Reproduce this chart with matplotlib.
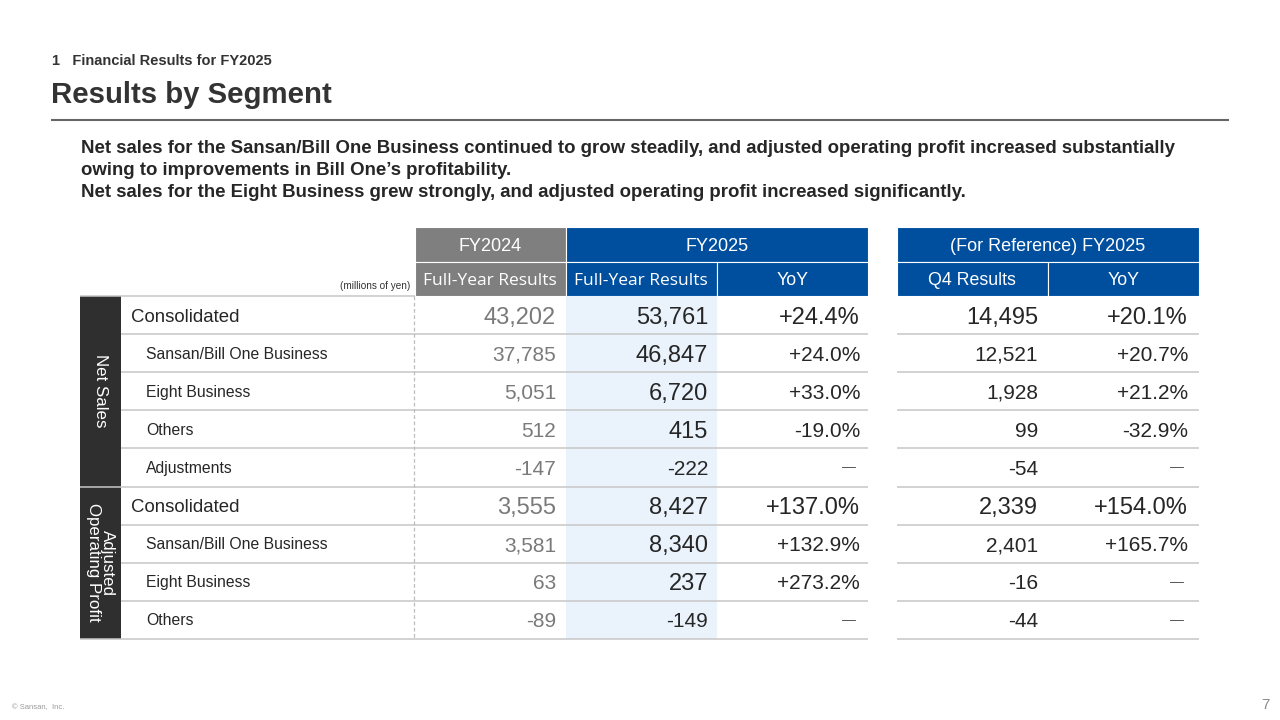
import matplotlib
matplotlib.use("Agg")
import matplotlib.pyplot as plt
from matplotlib.patches import Rectangle

# ---------------- data ----------------
subtitle = "1   Financial Results for FY2025"
title = "Results by Segment"
body_lines = [
    "Net sales for the Sansan/Bill One Business continued to grow steadily, and adjusted operating profit increased substantially",
    "owing to improvements in Bill One\u2019s profitability.",
    "Net sales for the Eight Business grew strongly, and adjusted operating profit increased significantly.",
]
sections = ["Net Sales", "Adjusted\nOperating Profit"]
section_counts = [5, 4]
row_labels = ["Consolidated", "Sansan/Bill One Business", "Eight Business", "Others", "Adjustments",
              "Consolidated", "Sansan/Bill One Business", "Eight Business", "Others"]
row_is_total = [True, False, False, False, False, True, False, False, False]
fy2024 = [43202, 37785, 5051, 512, -147, 3555, 3581, 63, -89]
fy2025 = [53761, 46847, 6720, 415, -222, 8427, 8340, 237, -149]
fy2025_yoy = [24.4, 24.0, 33.0, -19.0, None, 137.0, 132.9, 273.2, None]
q4 = [14495, 12521, 1928, 99, -54, 2339, 2401, -16, -44]
q4_yoy = [20.1, 20.7, 21.2, -32.9, None, 154.0, 165.7, None, None]
fy2025_large = [True, True, True, True, False, True, True, True, False]
header_top = ["FY2024", "FY2025", "(For Reference) FY2025"]
header_sub = ["Full-Year Results", "Full-Year Results", "YoY", "Q4 Results", "YoY"]
unit_note = "(millions of yen)"
footer_left = "\u00a9 Sansan,  Inc."
page_no = "7"

# ---------------- style ----------------
FONT = "Liberation Sans"
TXT = "#262626"
GREY_HDR = "#7f7f7f"
BLUE_HDR = "#004f9f"
LIGHT_BLUE = "#eaf3fc"
DARK = "#2f2f2f"
LINE = "#c6c6c6"

fig = plt.figure(figsize=(12.8, 7.2), dpi=100)
ax = fig.add_axes([0, 0, 1, 1])
ax.set_xlim(0, 1280)
ax.set_ylim(720, 0)
ax.axis("off")
renderer = fig.canvas.get_renderer()


def put(x, yc, s, size, ha="left", color=TXT, weight="normal", family=FONT, cap=0.716):
    px = size * 100 / 72
    return ax.text(x, yc + cap * px / 2, s, fontsize=size, ha=ha, va="baseline",
                   color=color, fontweight=weight, family=family)


def fit_size(s, target_w, weight="normal", family=FONT, base=12):
    t = ax.text(0, 0, s, fontsize=base, fontweight=weight, family=family)
    w = t.get_window_extent(renderer).width
    t.remove()
    return base * target_w / w


def hline(x0, x1, y, color=LINE, lw=1.1, **kw):
    ax.plot([x0, x1], [y, y], color=color, lw=lw, solid_capstyle="butt", **kw)


# ---------------- heading ----------------
ax.text(52, 65, subtitle, fontsize=fit_size(subtitle, 218, "bold"), fontweight="bold", family=FONT,
        color="#333333", va="baseline")
ax.text(51, 103, title, fontsize=fit_size(title, 280, "bold"), fontweight="bold", family=FONT,
        color="#333333", va="baseline")
hline(51, 1229, 119.5, color="#666666", lw=1.5)

body_size = fit_size(body_lines[0], 1097, "bold")
for i, line in enumerate(body_lines):
    ax.text(81, 153 + 22 * i, line, fontsize=body_size, fontweight="bold", family=FONT, color=TXT, va="baseline")

# ---------------- table geometry ----------------
h1_top, h1_bot = 227, 261.5
h2_top, h2_bot = 261.5, 296
top = 296
row_h = 38.1
n_rows = len(row_labels)
bounds = [top + i * row_h for i in range(n_rows + 1)]
centers = [(bounds[i] + bounds[i + 1]) / 2 for i in range(n_rows)]

c24 = (415, 565.5)
c25 = (565.5, 716.5)
cyoy = (716.5, 868)
cq4 = (897, 1047.5)
cq4y = (1047.5, 1199)


def box(x0, x1, y0, y1, color):
    ax.add_patch(Rectangle((x0, y0), x1 - x0, y1 - y0, facecolor=color, edgecolor="white", lw=0.8))


box(c24[0], c24[1], h1_top, h1_bot, GREY_HDR)
box(c25[0], cyoy[1], h1_top, h1_bot, BLUE_HDR)
box(cq4[0], cq4y[1], h1_top, h1_bot, BLUE_HDR)
sub_cols = [c24, c25, cyoy, cq4, cq4y]
sub_colors = [GREY_HDR, BLUE_HDR, BLUE_HDR, BLUE_HDR, BLUE_HDR]
for (x0, x1), col in zip(sub_cols, sub_colors):
    box(x0, x1, h2_top, h2_bot, col)

hc1 = (h1_top + h1_bot) / 2
hc2 = (h2_top + h2_bot) / 2
top_spans = [c24, (c25[0], cyoy[1]), (cq4[0], cq4y[1])]
for (x0, x1), s in zip(top_spans, header_top):
    put((x0 + x1) / 2, hc1, s, 13, ha="center", color="white")
full_size = fit_size("Full-Year Results", 133, family="Open Sans")
for (x0, x1), s in zip(sub_cols, header_sub):
    if s.startswith("Full"):
        put((x0 + x1) / 2, hc2, s, full_size, ha="center", color="white", family="Open Sans", cap=0.714)
    else:
        put((x0 + x1) / 2, hc2, s, 12.8, ha="center", color="white")

put(410, 285, unit_note, 7.2, ha="right", color="#333333")

ax.add_patch(Rectangle((c25[0], top), c25[1] - c25[0], bounds[-1] - top, facecolor=LIGHT_BLUE, edgecolor="none"))

start = 0
for name, cnt in zip(sections, section_counts):
    y0, y1 = bounds[start], bounds[start + cnt]
    ax.add_patch(Rectangle((80, y0), 41, y1 - y0, facecolor=DARK, edgecolor="none"))
    ax.text(100.5, (y0 + y1) / 2, name, rotation=270, ha="center", va="center", color="white",
            fontsize=12.2, family=FONT, linespacing=0.95, multialignment="center")
    start += cnt

hline(80, 415, top)
section_breaks = {sum(section_counts[:k + 1]) for k in range(len(section_counts))}
for i in range(1, n_rows + 1):
    x_start = 80 if i in section_breaks else 121
    hline(x_start, cyoy[1], bounds[i])
    hline(cq4[0], cq4y[1], bounds[i])

ax.plot([413.5, 413.5], [top, bounds[-1]], color="#bdbdbd", lw=0.9, ls=(0, (3, 2)))

# ---------------- cells ----------------
LARGE, SMALL = 17, 15


def fmt_num(v):
    return f"{v:,}"


def fmt_pct(v):
    return "\u2014" if v is None else f"{v:+.1f}%"


for i in range(n_rows):
    yc = centers[i]
    if row_is_total[i]:
        put(131, yc, row_labels[i], 13.4)
    else:
        put(146, yc, row_labels[i], 11.3)
    big = row_is_total[i]
    put(556, yc, fmt_num(fy2024[i]), LARGE if big else SMALL, ha="right", color="#7a7a7a")
    put(708, yc, fmt_num(fy2025[i]), LARGE if fy2025_large[i] else SMALL, ha="right")
    for xr, v in [(860, fy2025_yoy[i]), (1188, q4_yoy[i])]:
        if v is None:
            put(xr - 4, yc - 1, fmt_pct(v), 10, ha="right", color="#555555")
        else:
            put(xr, yc, fmt_pct(v), LARGE if big else SMALL, ha="right")
    put(1038, yc, fmt_num(q4[i]), LARGE if big else SMALL, ha="right")

# ---------------- footer ----------------
ax.text(12, 709, footer_left, fontsize=5.5, family=FONT, color="#9a9a9a", va="baseline")
ax.text(1270, 709, page_no, fontsize=11, family=FONT, color="#8a8a8a", va="baseline", ha="right")

fig.savefig("out.png", dpi=100, facecolor="white")
